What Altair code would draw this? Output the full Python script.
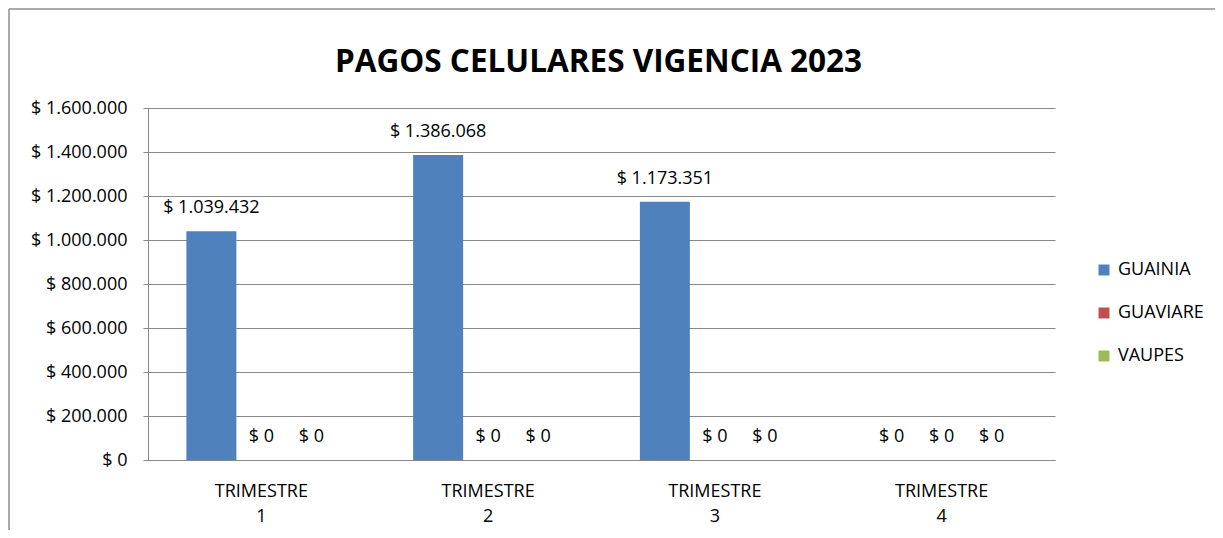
import altair as alt
import pandas as pd

trimestres = ["TRIMESTRE 1", "TRIMESTRE 2", "TRIMESTRE 3", "TRIMESTRE 4"]
departamentos = ["GUAINIA", "GUAVIARE", "VAUPES"]
guainia = [1039432, 1386068, 1173351, 0]
guaviare = [0, 0, 0, 0]
vaupes = [0, 0, 0, 0]
colores = ["#4F81BD", "#C0504D", "#9BBB59"]
y_ticks = [0, 200000, 400000, 600000, 800000, 1000000, 1200000, 1400000, 1600000]
titulo = "PAGOS CELULARES VIGENCIA 2023"

rows = []
for dep, serie in zip(departamentos, [guainia, guaviare, vaupes]):
    for t, v in zip(trimestres, serie):
        rows.append({"trimestre": t, "departamento": dep, "valor": v})
df = pd.DataFrame(rows)

FONT = "Open Sans"
FS = 18
W, H = 907, 352
PL, PT, PR, PB = 140, 100, 160, 70

base = alt.Chart(df).encode(
    x=alt.X("trimestre:N", sort=trimestres, title=None,
            scale=alt.Scale(paddingInner=0.3385, paddingOuter=0.16925),
            axis=alt.Axis(labelAngle=0, labelExpr="split(datum.label, ' ')",
                          labelLineHeight=25, labelPadding=22, ticks=False,
                          domainColor="#888888", labelFontSize=FS,
                          labelColor="#000000", labelFont=FONT)),
    xOffset=alt.XOffset("departamento:N", sort=departamentos,
                        scale=alt.Scale(paddingInner=0, paddingOuter=0)),
)

bars = base.mark_bar().encode(
    y=alt.Y("valor:Q", title=None,
            scale=alt.Scale(domain=[0, 1600000], nice=False),
            axis=alt.Axis(values=y_ticks, format="$,.0f", grid=True,
                          gridColor="#888888", domainColor="#888888",
                          tickColor="#888888", tickSize=5, labelPadding=16,
                          labelFontSize=FS, labelColor="#000000", labelFont=FONT)),
    color=alt.Color("departamento:N", sort=departamentos,
                    scale=alt.Scale(domain=departamentos, range=colores),
                    legend=alt.Legend(title=None, orient="none", legendX=947,
                                      legendY=153, symbolType="square",
                                      symbolSize=120, symbolStrokeWidth=0,
                                      labelFontSize=FS, labelFont=FONT,
                                      labelColor="#000000", rowPadding=25,
                                      labelOffset=5)),
)

labels = base.mark_text(baseline="middle", dy=-23, fontSize=FS, font=FONT,
                        color="#000000").encode(
    y=alt.Y("valor:Q"),
    text=alt.Text("valor:Q", format="$,.0f"),
)

frame_data = alt.Data(values=[{"k": 1}])
title_mark = alt.Chart(alt.Data(values=[{"t": titulo}])).mark_text(
    fontSize=31.5, fontWeight="bold", font=FONT, color="#000000",
    baseline="alphabetic", align="center").encode(
    text="t:N", x=alt.value(W / 2 - 3), y=alt.value(-36))
left_frame = alt.Chart(frame_data).mark_rule(color="#8c8c8c", strokeWidth=1.5).encode(
    x=alt.value(9 - 148), y=alt.value(9 - 108), y2=alt.value(540 - 108))
top_frame = alt.Chart(frame_data).mark_rule(color="#8c8c8c", strokeWidth=1.5).encode(
    x=alt.value(9 - 148), x2=alt.value(1223 - 148), y=alt.value(9 - 108))

chart = alt.layer(bars, labels, title_mark, left_frame, top_frame).properties(
    width=W, height=H,
    padding={"left": PL, "top": PT, "right": PR, "bottom": PB},
    autosize=alt.AutoSizeParams(type="none"),
).configure(
    locale={"number": {"decimal": ",", "thousands": ".", "grouping": [3],
                       "currency": ["$ ", ""]}},
).configure_view(stroke=None)

chart.save("out.html", embed_options={"renderer": "svg", "actions": False})
